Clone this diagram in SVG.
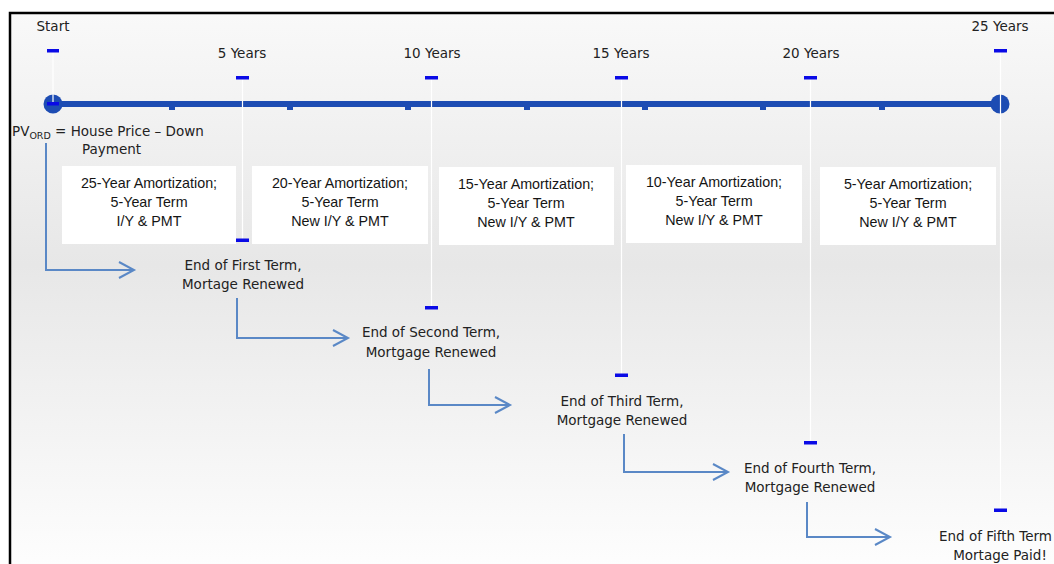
<svg xmlns="http://www.w3.org/2000/svg" width="1054" height="564" viewBox="0 0 1054 564">
<defs>
<linearGradient id="bg" x1="0" y1="0" x2="0" y2="1">
<stop offset="0" stop-color="#f9f9f9"/>
<stop offset="0.45" stop-color="#e7e7e7"/>
<stop offset="1" stop-color="#fefefe"/>
</linearGradient>
<marker id="chev" markerUnits="userSpaceOnUse" markerWidth="20" markerHeight="20" viewBox="-17 -10 20 20" refX="0" refY="0" orient="auto">
<path d="M-15,-8 L0,0 L-15,8" fill="none" stroke="#5a88c6" stroke-width="2"/>
</marker>
<style>
.yr{font-family:"DejaVu Sans",Verdana,sans-serif;font-size:13.5px;fill:#222;text-anchor:middle}
.lbl{font-family:"DejaVu Sans",Verdana,sans-serif;font-size:13.5px;fill:#222;text-anchor:middle}
.box{fill:#ffffff}
.bt{font-family:"Liberation Sans",Arial,sans-serif;font-size:14.3px;fill:#151515;text-anchor:middle}
.dash{fill:#0a0ae6}
.vl{stroke:#ffffff;stroke-width:1.2}
.conn{fill:none;stroke:#5a88c6;stroke-width:2;marker-end:url(#chev)}
.tick{fill:#1d4cb3}
</style>
</defs>
<rect x="0" y="0" width="1054" height="564" fill="#ffffff"/>
<rect x="9" y="13" width="1050" height="560" fill="url(#bg)"/>
<path d="M10,564 L10,13 L1054,13" fill="none" stroke="#000" stroke-width="2.5"/>

<g id="timeline">
<line x1="53" y1="104" x2="1000" y2="104" stroke="#1d4cb3" stroke-width="6"/>
<circle cx="53" cy="104" r="9.5" fill="#1d4cb3"/>
<circle cx="1000" cy="104" r="9.5" fill="#1d4cb3"/>
<rect class="tick" x="169" y="106" width="6" height="4"/>
<rect class="tick" x="287" y="106" width="6" height="4"/>
<rect class="tick" x="405" y="106" width="6" height="4"/>
<rect class="tick" x="524" y="106" width="6" height="4"/>
<rect class="tick" x="642" y="106" width="6" height="4"/>
<rect class="tick" x="760" y="106" width="6" height="4"/>
<rect class="tick" x="879" y="106" width="6" height="4"/>
</g>

<g id="markers">
<line class="vl" x1="53" y1="52" x2="53" y2="103"/>
<line class="vl" x1="242.5" y1="79" x2="242.5" y2="240"/>
<line class="vl" x1="431.5" y1="79" x2="431.5" y2="308"/>
<line class="vl" x1="621.5" y1="79" x2="621.5" y2="375"/>
<line class="vl" x1="810.5" y1="79" x2="810.5" y2="443"/>
<line class="vl" x1="1000.5" y1="52" x2="1000.5" y2="510"/>
<rect class="dash" x="47" y="49" width="12" height="3.5"/>
<rect class="dash" x="47" y="102" width="12" height="3.5"/>
<rect class="dash" x="236" y="76" width="13" height="3.5"/>
<rect class="dash" x="236" y="238.5" width="13" height="3.5"/>
<rect class="dash" x="425" y="76" width="13" height="3.5"/>
<rect class="dash" x="425" y="306" width="13" height="3.5"/>
<rect class="dash" x="615" y="76" width="13" height="3.5"/>
<rect class="dash" x="615" y="373.5" width="13" height="3.5"/>
<rect class="dash" x="804" y="76" width="13" height="3.5"/>
<rect class="dash" x="804" y="441" width="13" height="3.5"/>
<rect class="dash" x="994" y="49" width="13" height="3.5"/>
<rect class="dash" x="994" y="508.5" width="13" height="3.5"/>
</g>

<g id="year-labels">
<text class="yr" x="53" y="31">Start</text>
<text class="yr" x="242" y="58">5 Years</text>
<text class="yr" x="432" y="58">10 Years</text>
<text class="yr" x="621" y="58">15 Years</text>
<text class="yr" x="811" y="58">20 Years</text>
<text class="yr" x="1000" y="31">25 Years</text>
</g>

<g id="pv">
<text x="12" y="136" font-family="DejaVu Sans, Verdana, sans-serif" font-size="13.5" fill="#222">PV<tspan font-size="9.5" dy="3">ORD</tspan><tspan dy="-3"> = House Price – Down</tspan></text>
<text x="82" y="154" font-family="DejaVu Sans, Verdana, sans-serif" font-size="13.5" fill="#222">Payment</text>
</g>

<g id="box1">
<rect class="box" x="62" y="166" width="174" height="78"/>
<text class="bt" x="149" y="188">25-Year Amortization;</text>
<text class="bt" x="149" y="207">5-Year Term</text>
<text class="bt" x="149" y="226">I/Y &amp; PMT</text>
</g>
<g id="box2">
<rect class="box" x="252" y="166" width="176" height="78"/>
<text class="bt" x="340" y="188">20-Year Amortization;</text>
<text class="bt" x="340" y="207">5-Year Term</text>
<text class="bt" x="340" y="226">New I/Y &amp; PMT</text>
</g>
<g id="box3">
<rect class="box" x="439" y="167" width="175" height="78"/>
<text class="bt" x="526" y="189">15-Year Amortization;</text>
<text class="bt" x="526" y="208">5-Year Term</text>
<text class="bt" x="526" y="227">New I/Y &amp; PMT</text>
</g>
<g id="box4">
<rect class="box" x="626" y="165" width="176" height="78"/>
<text class="bt" x="714" y="187">10-Year Amortization;</text>
<text class="bt" x="714" y="206">5-Year Term</text>
<text class="bt" x="714" y="225">New I/Y &amp; PMT</text>
</g>
<g id="box5">
<rect class="box" x="820" y="167" width="176" height="78"/>
<text class="bt" x="908" y="189">5-Year Amortization;</text>
<text class="bt" x="908" y="208">5-Year Term</text>
<text class="bt" x="908" y="227">New I/Y &amp; PMT</text>
</g>

<g id="end1">
<text class="lbl" x="243" y="270">End of First Term,</text>
<text class="lbl" x="243" y="289">Mortage Renewed</text>
</g>
<g id="end2">
<text class="lbl" x="431" y="337">End of Second Term,</text>
<text class="lbl" x="431" y="357">Mortgage Renewed</text>
</g>
<g id="end3">
<text class="lbl" x="622" y="406">End of Third Term,</text>
<text class="lbl" x="622" y="425">Mortgage Renewed</text>
</g>
<g id="end4">
<text class="lbl" x="810" y="473">End of Fourth Term,</text>
<text class="lbl" x="810" y="492">Mortgage Renewed</text>
</g>
<g id="end5">
<text x="939" y="541" font-family="DejaVu Sans, Verdana, sans-serif" font-size="13.5" fill="#222" textLength="113" lengthAdjust="spacingAndGlyphs">End of Fifth Term</text>
<text class="lbl" x="1000" y="560">Mortage Paid!</text>
</g>

<g id="connectors">
<path class="conn" d="M46,143 L46,270 L134,270"/>
<path class="conn" d="M237,298 L237,338 L348,338"/>
<path class="conn" d="M429,369 L429,405 L510,405"/>
<path class="conn" d="M624,434 L624,472 L728,472"/>
<path class="conn" d="M807,502 L807,537 L890,537"/>
</g>
</svg>
